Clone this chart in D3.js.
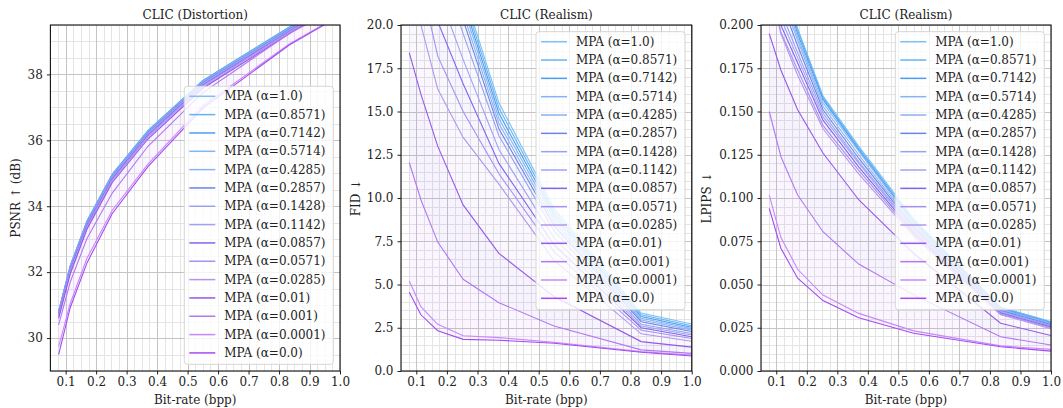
<!DOCTYPE html>
<html><head><meta charset="utf-8">
<script src="https://cdn.jsdelivr.net/npm/d3@7"></script>
<style>body{margin:0;background:#fff} text{font-family:"DejaVu Serif",serif;fill:#222}</style>
</head><body><svg id="c" width="1063" height="408"></svg>
<script>
const bitrate = [0.077, 0.115, 0.170, 0.253, 0.370, 0.550, 0.835, 1.0];
const alphaLabels = ["1.0","0.8571","0.7142","0.5714","0.4285","0.2857","0.1428","0.1142","0.0857","0.0571","0.0285","0.01","0.001","0.0001","0.0"];
const colors = ["#7cc0f4","#62b4f6","#4a9ef6","#84b4f6","#8eb0f4","#6a84ea","#98a2f2","#a0a2f6","#8464f2","#a690f2","#b296ec","#9458ea","#b278f2","#c48af8","#a848f4"];

const psnr = [
  [30.82, 32.20, 33.56, 34.98, 36.30, 37.82, 39.45, 40.40],
  [30.81, 32.19, 33.55, 34.97, 36.29, 37.81, 39.44, 40.39],
  [30.80, 32.18, 33.54, 34.96, 36.28, 37.80, 39.43, 40.38],
  [30.79, 32.17, 33.53, 34.95, 36.27, 37.79, 39.42, 40.37],
  [30.78, 32.15, 33.51, 34.93, 36.25, 37.77, 39.40, 40.35],
  [30.76, 32.13, 33.49, 34.91, 36.23, 37.75, 39.38, 40.33],
  [30.74, 32.11, 33.47, 34.89, 36.21, 37.73, 39.36, 40.31],
  [30.72, 32.09, 33.45, 34.87, 36.19, 37.71, 39.34, 40.29],
  [30.70, 32.06, 33.42, 34.84, 36.16, 37.68, 39.32, 40.27],
  [30.67, 32.03, 33.39, 34.81, 36.13, 37.66, 39.30, 40.25],
  [30.64, 31.99, 33.35, 34.77, 36.09, 37.62, 39.27, 40.22],
  [30.60, 31.94, 33.30, 34.72, 36.04, 37.58, 39.24, 40.20],
  [30.40, 31.70, 33.02, 34.40, 35.82, 37.45, 39.25, 40.05],
  [29.74, 31.05, 32.42, 33.88, 35.28, 37.05, 38.93, 39.80],
  [29.50, 30.92, 32.28, 33.78, 35.20, 36.98, 38.90, 39.78]
];
const fid = [
  [40.0, 33.0, 27.0, 22.0, 15.5, 9.4, 3.35, 2.72],
  [39.0, 32.5, 26.6, 21.7, 15.2, 9.2, 3.25, 2.62],
  [38.5, 32.0, 26.2, 21.4, 14.9, 9.0, 3.15, 2.53],
  [38.0, 31.5, 25.8, 21.1, 14.6, 8.8, 3.05, 2.45],
  [37.0, 31.0, 25.3, 20.7, 14.3, 8.6, 2.95, 2.37],
  [36.0, 30.0, 24.7, 20.3, 14.0, 8.4, 2.85, 2.28],
  [35.0, 29.0, 23.8, 19.5, 13.6, 8.1, 2.70, 2.17],
  [33.0, 27.0, 22.0, 18.0, 12.8, 7.7, 2.60, 2.08],
  [31.0, 25.0, 20.2, 16.6, 12.0, 7.3, 2.50, 1.98],
  [28.0, 22.5, 18.2, 15.0, 11.4, 6.9, 2.35, 1.88],
  [24.0, 20.0, 16.3, 13.5, 10.8, 6.4, 2.15, 1.72],
  [18.4, 16.0, 13.0, 9.6, 6.8, 4.3, 1.70, 1.38],
  [12.05, 9.9, 7.45, 5.3, 3.95, 2.6, 1.22, 1.02],
  [5.2, 3.72, 2.70, 2.04, 1.93, 1.66, 1.12, 0.92],
  [4.55, 3.25, 2.33, 1.83, 1.78, 1.60, 1.08, 0.87]
];
const lpips = [
  [0.265, 0.232, 0.198, 0.159, 0.130, 0.088, 0.0370, 0.0285],
  [0.262, 0.229, 0.197, 0.158, 0.129, 0.087, 0.0366, 0.0282],
  [0.258, 0.226, 0.195, 0.157, 0.128, 0.086, 0.0362, 0.0279],
  [0.255, 0.222, 0.193, 0.155, 0.127, 0.085, 0.0358, 0.0276],
  [0.250, 0.218, 0.191, 0.153, 0.125, 0.084, 0.0354, 0.0272],
  [0.245, 0.214, 0.188, 0.151, 0.123, 0.083, 0.0350, 0.0268],
  [0.240, 0.208, 0.184, 0.149, 0.121, 0.082, 0.0345, 0.0263],
  [0.235, 0.204, 0.181, 0.147, 0.120, 0.081, 0.0340, 0.0260],
  [0.230, 0.200, 0.178, 0.145, 0.118, 0.080, 0.0335, 0.0255],
  [0.225, 0.196, 0.174, 0.142, 0.116, 0.079, 0.0330, 0.0250],
  [0.222, 0.195, 0.171, 0.140, 0.114, 0.078, 0.0325, 0.0245],
  [0.195, 0.174, 0.151, 0.126, 0.099, 0.068, 0.0276, 0.0205],
  [0.150, 0.124, 0.1017, 0.0805, 0.0618, 0.044, 0.0198, 0.0150],
  [0.1017, 0.0773, 0.0588, 0.0439, 0.0333, 0.0232, 0.0145, 0.0125],
  [0.094, 0.071, 0.0536, 0.0407, 0.0308, 0.0218, 0.0140, 0.0115]
];
const xTicks = [0.1,0.2,0.3,0.4,0.5,0.6,0.7,0.8,0.9,1.0];
const psnrTicks = [30,32,34,36,38];
const fidTicks = [0,2.5,5,7.5,10,12.5,15,17.5,20];
const lpipsTicks = [0,0.025,0.05,0.075,0.1,0.125,0.15,0.175,0.2];

const panels = [
  {title:"CLIC (Distortion)", ylabel:"PSNR \u2191 (dB)", data:psnr, y:[29.0,39.5], ticks:psnrTicks, fmt:d3.format("d"), minor:0.5, left:50.4, right:340, ylx:16, legend:"lower"},
  {title:"CLIC (Realism)", ylabel:"FID \u2193", data:fid, y:[0,20], ticks:fidTicks, fmt:d3.format(".1f"), minor:0.5, left:401, right:691.7, ylx:356, legend:"upper"},
  {title:"CLIC (Realism)", ylabel:"LPIPS \u2193", data:lpips, y:[0,0.2], ticks:lpipsTicks, fmt:d3.format(".3f"), minor:0.005, left:761, right:1051, ylx:707, legend:"upper"}
];
const plotTop = 25, plotBottom = 371;
const svg = d3.select("#c");

panels.forEach((p, pi) => {
  const x = d3.scaleLinear().domain([0.05, 1.0]).range([p.left, p.right]);
  const y = d3.scaleLinear().domain(p.y).range([plotBottom, plotTop]);
  const g = svg.append("g");
  const clipId = "clip" + pi;
  g.append("clipPath").attr("id", clipId).append("rect")
    .attr("x", p.left).attr("y", plotTop).attr("width", p.right - p.left).attr("height", plotBottom - plotTop);

  // minor grid
  const xMinor = d3.range(0.05, 1.0001, 0.025).filter(v => Math.abs(v*10 - Math.round(v*10)) > 1e-6);
  g.append("g").selectAll("line").data(xMinor).join("line")
    .attr("x1", d => Math.round(x(d))+0.5).attr("x2", d => Math.round(x(d))+0.5)
    .attr("y1", plotTop).attr("y2", plotBottom).attr("stroke", "#e4e4e4").attr("stroke-width", 1);
  const nMin = Math.round((p.y[1]-p.y[0])/p.minor);
  const yMinor = d3.range(0, nMin+1).map(i => p.y[0] + i*p.minor)
    .filter(v => !p.ticks.some(t => Math.abs(t - v) < p.minor*0.01));
  g.append("g").selectAll("line").data(yMinor).join("line")
    .attr("x1", p.left).attr("x2", p.right)
    .attr("y1", d => Math.round(y(d))+0.5).attr("y2", d => Math.round(y(d))+0.5)
    .attr("stroke", "#e4e4e4").attr("stroke-width", 1);
  // major grid
  g.append("g").selectAll("line").data(xTicks).join("line")
    .attr("x1", d => Math.round(x(d))+0.5).attr("x2", d => Math.round(x(d))+0.5)
    .attr("y1", plotTop).attr("y2", plotBottom).attr("stroke", "#c4c4c4").attr("stroke-width", 1);
  g.append("g").selectAll("line").data(p.ticks).join("line")
    .attr("x1", p.left).attr("x2", p.right)
    .attr("y1", d => Math.round(y(d))+0.5).attr("y2", d => Math.round(y(d))+0.5)
    .attr("stroke", "#c4c4c4").attr("stroke-width", 1);

  // fills between consecutive curves
  const plot = g.append("g").attr("clip-path", `url(#${clipId})`);
  for (let i = 0; i < p.data.length - 1; i++) {
    const a = p.data[i], b = p.data[i+1];
    const area = d3.area().x((d, k) => x(bitrate[k])).y0((d, k) => y(b[k])).y1((d, k) => y(a[k]));
    plot.append("path").datum(a).attr("d", area).attr("fill", colors[i]).attr("fill-opacity", 0.07);
  }
  const line = d3.line().x((d, k) => x(bitrate[k])).y(d => y(d));
  p.data.forEach((s, i) => {
    plot.append("path").datum(s).attr("d", line).attr("fill", "none")
      .attr("stroke", colors[i]).attr("stroke-width", 1.1);
  });

  // axes
  const xAxis = d3.axisBottom(x).tickValues(xTicks).tickFormat(d3.format(".1f")).tickSizeOuter(0).tickSize(3.5).tickPadding(3);
  const yAxis = d3.axisLeft(y).tickValues(p.ticks).tickFormat(p.fmt).tickSizeOuter(0).tickSize(3.5).tickPadding(4);
  const gx = g.append("g").attr("transform", `translate(0,${plotBottom})`).call(xAxis);
  const gy = g.append("g").attr("transform", `translate(${p.left},0)`).call(yAxis);
  [gx, gy].forEach(ax => {
    ax.select(".domain").remove();
    ax.selectAll("text").style("font-family", "DejaVu Serif").style("font-size", "12px").attr("fill", "#222");
    ax.selectAll("line").attr("stroke", "#222");
  });
  g.append("rect").attr("x", p.left).attr("y", plotTop).attr("width", p.right - p.left).attr("height", plotBottom - plotTop)
    .attr("fill", "none").attr("stroke", "#111").attr("stroke-width", 1.1);

  // labels
  g.append("text").attr("x", (p.left + p.right)/2).attr("y", 19).attr("text-anchor", "middle")
    .style("font-size", "12px").text(p.title);
  g.append("text").attr("x", (p.left + p.right)/2).attr("y", 404).attr("text-anchor", "middle")
    .style("font-size", "12px").text("Bit-rate (bpp)");
  g.append("text").attr("transform", `translate(${p.ylx},${(plotTop+plotBottom)/2}) rotate(-90)`)
    .attr("text-anchor", "middle").attr("dominant-baseline", "central").style("font-size", "12px").text(p.ylabel);

  // legend
  const rowH = 18.33, lw = 149, lh = 278;
  const lx = p.right - 6.7 - lw;
  const ly = p.legend === "lower" ? 364.3 - lh : 31.7;
  const lg = g.append("g");
  lg.append("rect").attr("x", lx).attr("y", ly).attr("width", lw).attr("height", lh).attr("rx", 3)
    .attr("fill", "#fff").attr("fill-opacity", 0.8).attr("stroke", "#d6d6d6").attr("stroke-width", 1);
  alphaLabels.forEach((a, i) => {
    const cy = ly + 10 + i * rowH;
    lg.append("line").attr("x1", lx + 5).attr("x2", lx + 31).attr("y1", cy).attr("y2", cy)
      .attr("stroke", colors[i]).attr("stroke-width", 1.5);
    lg.append("text").attr("x", lx + 40).attr("y", cy).attr("dominant-baseline", "central")
      .style("font-size", "12px").text(`MPA (\u03b1=${a})`);
  });
});
</script></body></html>
